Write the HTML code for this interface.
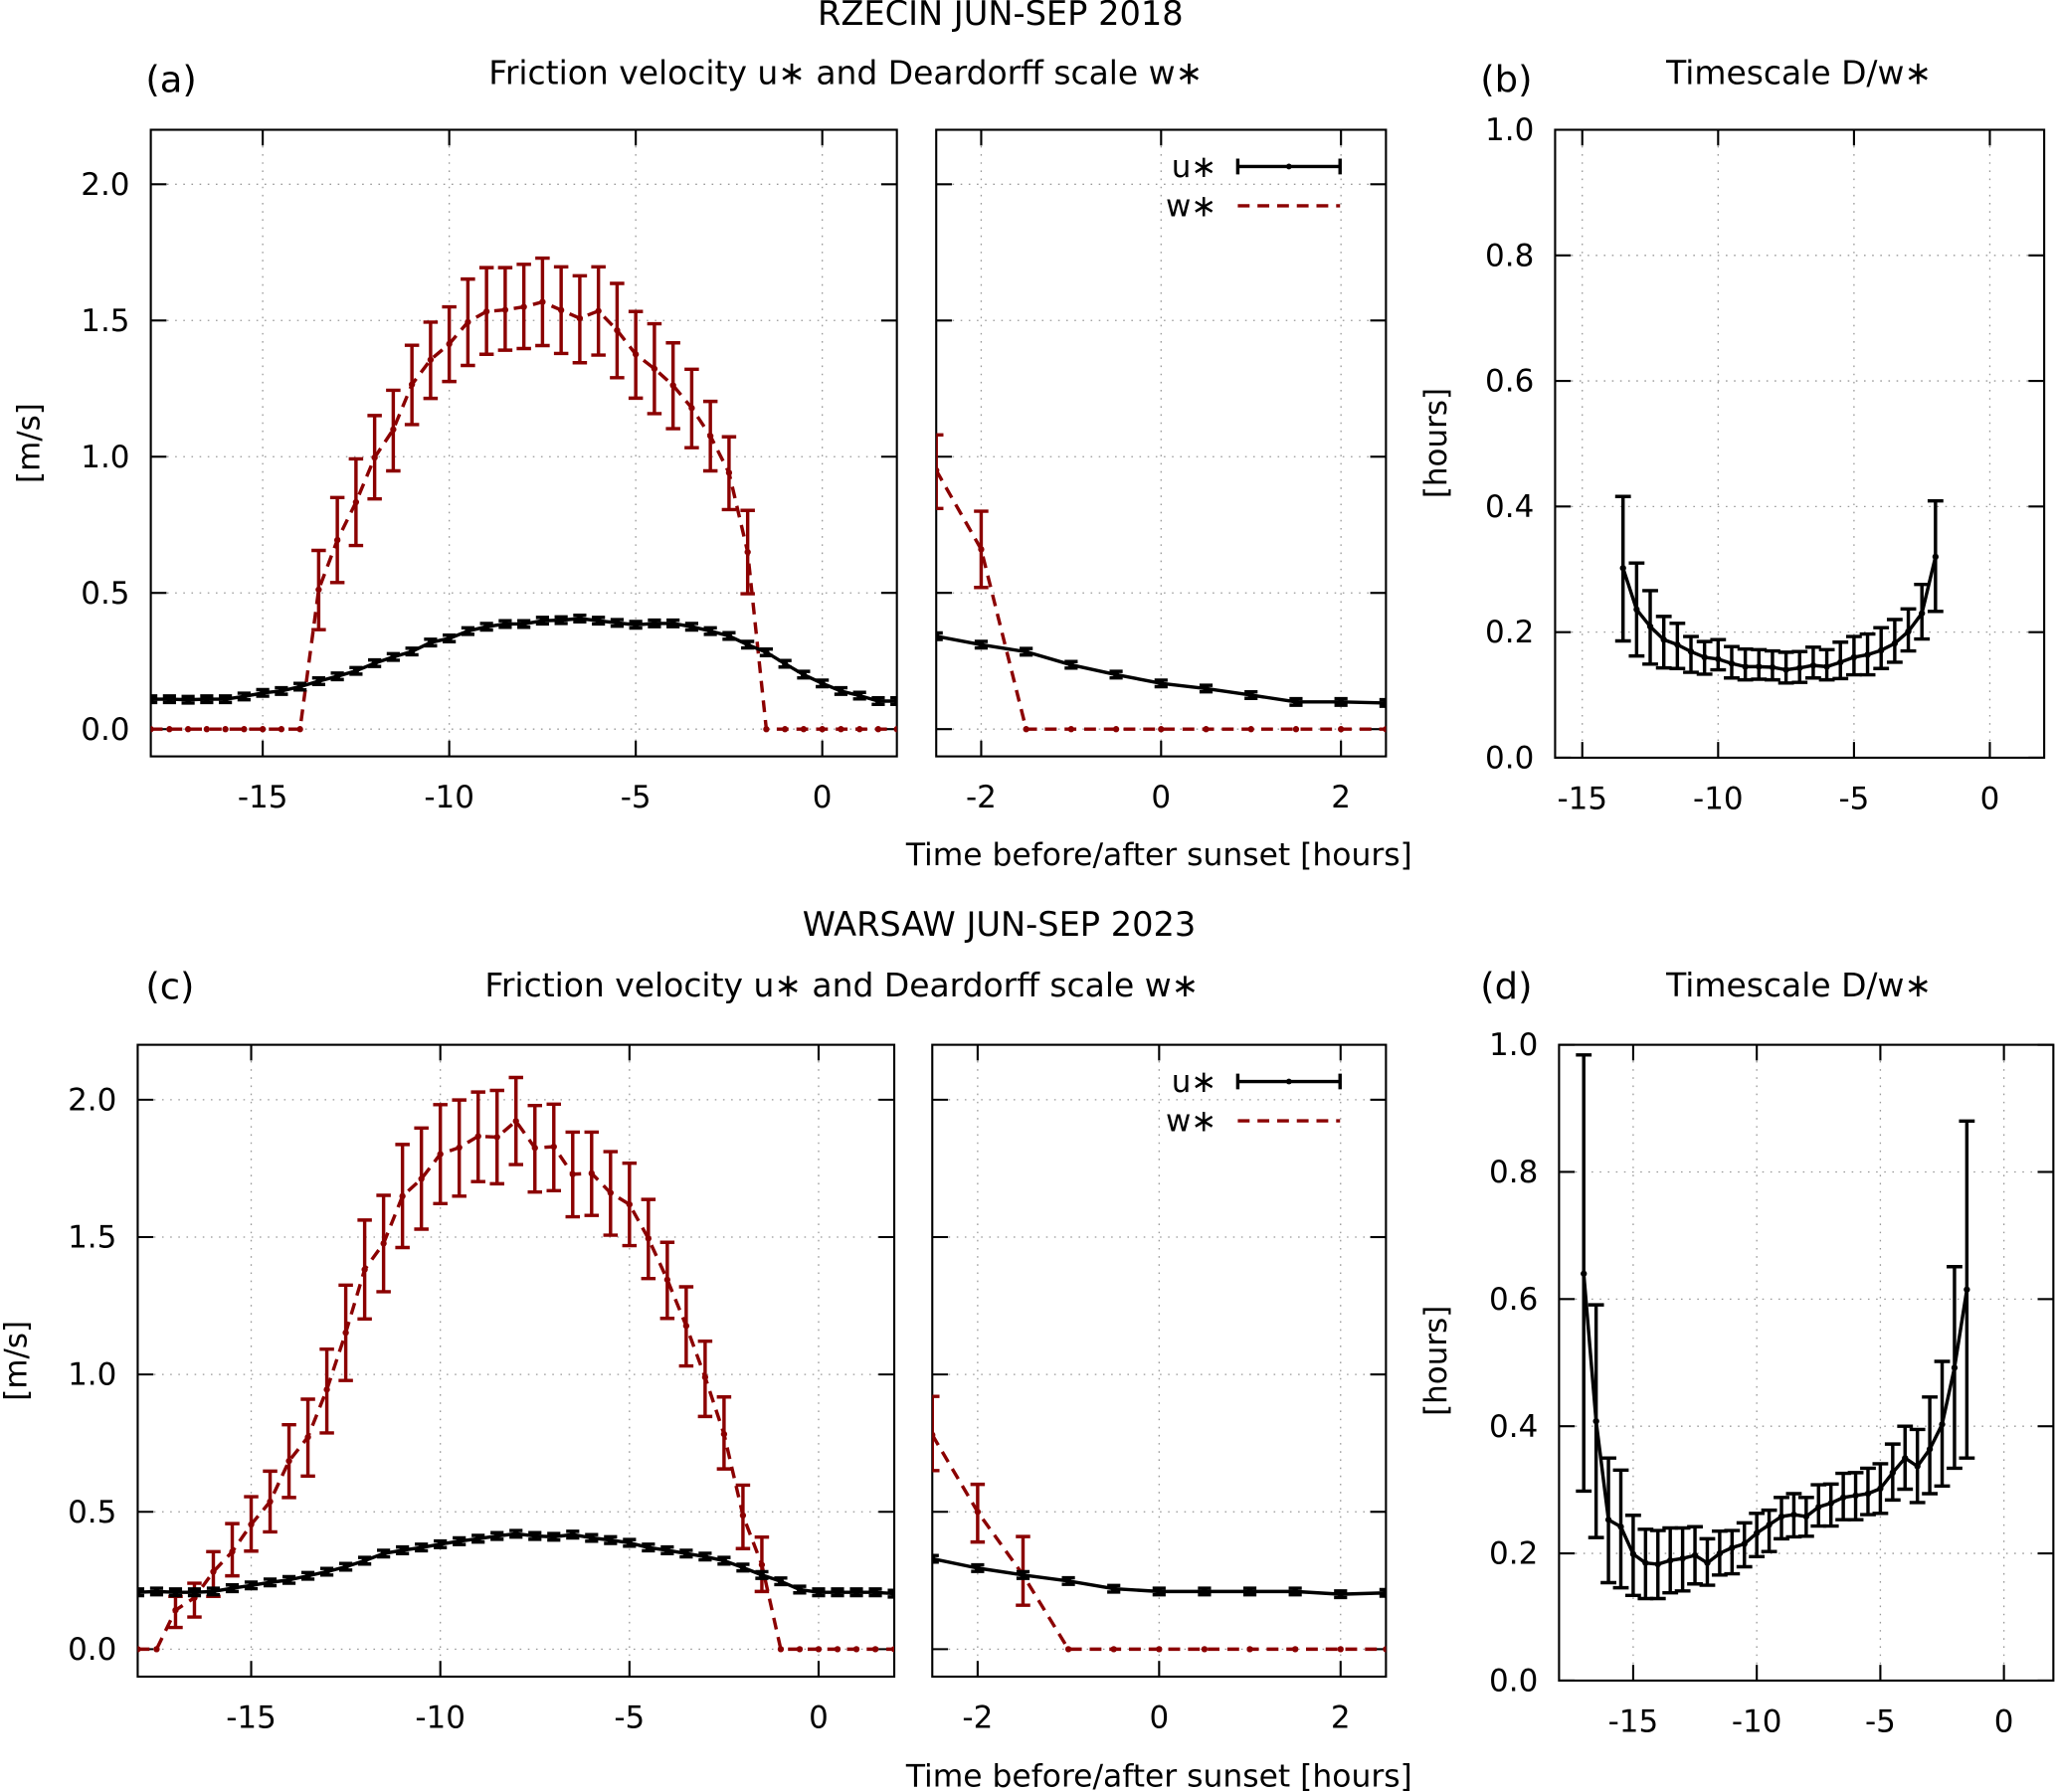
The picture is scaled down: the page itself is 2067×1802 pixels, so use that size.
<!DOCTYPE html>
<html><head><meta charset="utf-8">
<style>
html,body{margin:0;padding:0;background:#fff;}
svg{display:block;font-family:"DejaVu Sans","Liberation Sans",sans-serif;}
</style></head>
<body>
<svg id="fig" xmlns="http://www.w3.org/2000/svg" width="2067" height="1802" viewBox="0 0 1568 1367">
<rect x="0" y="0" width="1568" height="1367" fill="#fff"/>
<g fill="#000">
<text x="763" y="19" font-size="25.5" text-anchor="middle">RZECIN JUN-SEP 2018</text>
<text x="111" y="70" font-size="28">(a)</text>
<text x="645" y="64" font-size="25" text-anchor="middle">Friction velocity u∗ and Deardorff scale w∗</text>
<text x="1129" y="70" font-size="28">(b)</text>
<text x="1372" y="64" font-size="25" text-anchor="middle">Timescale D/w∗</text>
<text x="884" y="660" font-size="23.8" text-anchor="middle">Time before/after sunset [hours]</text>
<text x="762" y="714" font-size="25.5" text-anchor="middle">WARSAW JUN-SEP 2023</text>
<text x="111" y="762" font-size="28">(c)</text>
<text x="642" y="760" font-size="25" text-anchor="middle">Friction velocity u∗ and Deardorff scale w∗</text>
<text x="1129" y="762" font-size="28">(d)</text>
<text x="1372" y="760" font-size="25" text-anchor="middle">Timescale D/w∗</text>
<text x="884" y="1363" font-size="23.8" text-anchor="middle">Time before/after sunset [hours]</text>
<text transform="translate(30,338) rotate(-90)" font-size="23.5" text-anchor="middle">[m/s]</text>
<text transform="translate(1103,338) rotate(-90)" font-size="23.5" text-anchor="middle">[hours]</text>
<text transform="translate(20,1038) rotate(-90)" font-size="23.5" text-anchor="middle">[m/s]</text>
<text transform="translate(1103,1038) rotate(-90)" font-size="23.5" text-anchor="middle">[hours]</text>
</g>
<g id="plots"></g>
</svg>
<script>
// ---- data ----
const hoursMain = [-18,-17.5,-17,-16.5,-16,-15.5,-15,-14.5,-14,-13.5,-13,-12.5,-12,-11.5,-11,-10.5,-10,-9.5,-9,-8.5,-8,-7.5,-7,-6.5,-6,-5.5,-5,-4.5,-4,-3.5,-3,-2.5,-2,-1.5,-1,-0.5,0,0.5,1,1.5,2];
const hoursRight = [-2.5,-2,-1.5,-1,-0.5,0,0.5,1,1.5,2,2.5];
const hoursB = [-13.5,-13,-12.5,-12,-11.5,-11,-10.5,-10,-9.5,-9,-8.5,-8,-7.5,-7,-6.5,-6,-5.5,-5,-4.5,-4,-3.5,-3,-2.5,-2];
const hoursD = [-17,-16.5,-16,-15.5,-15,-14.5,-14,-13.5,-13,-12.5,-12,-11.5,-11,-10.5,-10,-9.5,-9,-8.5,-8,-7.5,-7,-6.5,-6,-5.5,-5,-4.5,-4,-3.5,-3,-2.5,-2,-1.5];

const uA = [0.11,0.11,0.108,0.11,0.11,0.12,0.133,0.14,0.156,0.176,0.194,0.214,0.242,0.265,0.285,0.318,0.333,0.36,0.376,0.386,0.386,0.398,0.40,0.406,0.398,0.39,0.383,0.388,0.388,0.376,0.36,0.342,0.31,0.282,0.24,0.2,0.168,0.14,0.123,0.103,0.103];
const uErr = [0.012];
const wA = [0,0,0,0,0,0,0,0,0,0.512,0.694,0.833,0.997,1.1,1.265,1.356,1.414,1.494,1.533,1.539,1.55,1.568,1.538,1.508,1.535,1.464,1.376,1.323,1.262,1.179,1.076,0.941,0.65,0,0,0,0,0,0,0,0];
const wAhi = [0,0,0,0,0,0,0,0,0,0.656,0.85,0.992,1.151,1.244,1.409,1.494,1.55,1.652,1.694,1.694,1.706,1.729,1.697,1.664,1.697,1.636,1.533,1.488,1.418,1.321,1.203,1.073,0.803,0,0,0,0,0,0,0,0];
const wAlo = [0,0,0,0,0,0,0,0,0,0.365,0.538,0.674,0.845,0.948,1.118,1.214,1.276,1.335,1.376,1.391,1.397,1.408,1.379,1.345,1.373,1.29,1.215,1.158,1.103,1.033,0.948,0.806,0.497,0,0,0,0,0,0,0,0];
const uAR = [0.341,0.31,0.284,0.236,0.2,0.168,0.149,0.125,0.1,0.1,0.096];
const wAR = [0.95,0.66,0,0,0,0,0,0,0,0,0];
const wARhi = [1.08,0.8,0,0,0,0,0,0,0,0,0];
const wARlo = [0.81,0.52,0,0,0,0,0,0,0,0,0];

const uC = [0.207,0.21,0.207,0.207,0.21,0.222,0.232,0.243,0.252,0.267,0.282,0.3,0.322,0.348,0.36,0.37,0.382,0.393,0.402,0.412,0.42,0.412,0.409,0.417,0.405,0.397,0.387,0.37,0.36,0.348,0.337,0.322,0.297,0.27,0.247,0.217,0.207,0.207,0.207,0.207,0.202];
const wC = [0,0,0.142,0.187,0.282,0.355,0.454,0.537,0.685,0.772,0.945,1.152,1.382,1.477,1.649,1.712,1.802,1.826,1.867,1.864,1.922,1.825,1.829,1.729,1.732,1.661,1.619,1.495,1.345,1.177,0.99,0.783,0.487,0.307,0,0,0,0,0,0,0];
const wChi = [0,0,0.192,0.24,0.355,0.457,0.555,0.648,0.817,0.91,1.092,1.325,1.562,1.652,1.837,1.897,1.982,1.999,2.028,2.034,2.081,1.979,1.984,1.882,1.882,1.811,1.769,1.637,1.481,1.319,1.121,0.918,0.597,0.408,0,0,0,0,0,0,0];
const wClo = [0,0,0.079,0.117,0.192,0.267,0.357,0.427,0.552,0.63,0.787,0.978,1.202,1.301,1.462,1.529,1.622,1.649,1.702,1.694,1.764,1.664,1.669,1.574,1.579,1.507,1.469,1.349,1.204,1.031,0.847,0.656,0.366,0.21,0,0,0,0,0,0,0];
const uCR = [0.329,0.295,0.27,0.248,0.22,0.21,0.21,0.21,0.21,0.2,0.205];
const wCR = [0.78,0.5,0.27,0,0,0,0,0,0,0,0];
const wCRhi = [0.92,0.6,0.41,0,0,0,0,0,0,0,0];
const wCRlo = [0.65,0.39,0.16,0,0,0,0,0,0,0,0];

const tB = [0.302,0.236,0.209,0.188,0.18,0.169,0.16,0.157,0.15,0.145,0.145,0.144,0.14,0.143,0.147,0.145,0.152,0.16,0.164,0.171,0.182,0.201,0.23,0.32];
const tBhi = [0.416,0.31,0.266,0.225,0.214,0.193,0.185,0.188,0.177,0.173,0.172,0.17,0.168,0.169,0.176,0.172,0.184,0.193,0.197,0.207,0.22,0.237,0.276,0.409];
const tBlo = [0.186,0.162,0.149,0.143,0.142,0.136,0.133,0.14,0.127,0.124,0.125,0.124,0.119,0.12,0.127,0.124,0.126,0.132,0.132,0.142,0.152,0.17,0.189,0.233];

const tD = [0.64,0.408,0.253,0.242,0.199,0.185,0.183,0.189,0.192,0.197,0.185,0.2,0.209,0.215,0.232,0.245,0.258,0.261,0.258,0.273,0.279,0.288,0.291,0.294,0.302,0.327,0.35,0.337,0.364,0.403,0.492,0.615];
const tDhi = [0.984,0.591,0.35,0.331,0.26,0.238,0.236,0.24,0.24,0.242,0.223,0.235,0.236,0.248,0.263,0.268,0.288,0.294,0.288,0.308,0.309,0.326,0.327,0.334,0.341,0.372,0.4,0.395,0.446,0.502,0.651,0.88];
const tDlo = [0.298,0.225,0.154,0.146,0.134,0.129,0.129,0.138,0.141,0.152,0.15,0.166,0.168,0.179,0.195,0.203,0.223,0.226,0.227,0.243,0.243,0.253,0.253,0.261,0.263,0.284,0.301,0.28,0.294,0.306,0.334,0.35];

const yTicksMS = [0,0.5,1.0,1.5,2.0];
const yTicksMSLabels = ["0.0","0.5","1.0","1.5","2.0"];
const yTicksH = [0,0.2,0.4,0.6,0.8,1.0];
const yTicksHLabels = ["0.0","0.2","0.4","0.6","0.8","1.0"];
const xTicksMain = [-15,-10,-5,0];
const xTicksRight = [-2,0,2];

// ---- drawing ----
const NS = "http://www.w3.org/2000/svg";
const root = document.getElementById('plots');
const RED = "#8b0000";
function mk(tag, attrs, parent){
  const e = document.createElementNS(NS, tag);
  for (const k in attrs) e.setAttribute(k, attrs[k]);
  (parent||root).appendChild(e);
  return e;
}
function panel(name, px0, px1, py0, py1, xd, yd, xt, yt, ytl, showYLabels){
  const g = mk('g', {});
  
  
  const sx = v => px0 + (v - xd[0]) / (xd[1] - xd[0]) * (px1 - px0);
  const sy = v => py1 - (v - yd[0]) / (yd[1] - yd[0]) * (py1 - py0);
  const grid = mk('g', {stroke:"#999", "stroke-width":1, "stroke-dasharray":"1.2 5"}, g);
  
  
  xt.forEach(t => mk('line', {x1:sx(t), x2:sx(t), y1:py0, y2:py1}, grid));
  yt.forEach(t => mk('line', {x1:px0, x2:px1, y1:sy(t), y2:sy(t)}, grid));
  const ax = mk('g', {stroke:"#000", "stroke-width":1.6}, g);
  
  
  xt.forEach(t => {
    mk('line', {x1:sx(t), x2:sx(t), y1:py1, y2:py1-12}, ax);
    mk('line', {x1:sx(t), x2:sx(t), y1:py0, y2:py0+12}, ax);
  });
  yt.forEach(t => {
    mk('line', {x1:px0, x2:px0+12, y1:sy(t), y2:sy(t)}, ax);
    mk('line', {x1:px1, x2:px1-12, y1:sy(t), y2:sy(t)}, ax);
  });
  mk('rect', {x:px0, y:py0, width:px1-px0, height:py1-py0, fill:"none"}, ax);
  const tl = mk('g', {"font-size":23.5, fill:"#000"}, g);
  
  
  xt.forEach(t => {
    const e = mk('text', {x:sx(t), y:py1+39, "text-anchor":"middle"}, tl);
    e.textContent = String(t);
  });
  if (showYLabels) yt.forEach((t,i) => {
    const e = mk('text', {x:px0-16, y:sy(t)+8, "text-anchor":"end"}, tl);
    e.textContent = ytl[i];
  });
  const clip = 'clip-' + name;
  const cp = mk('clipPath', {id:clip}, g);
  mk('rect', {x:px0, y:py0, width:px1-px0, height:py1-py0}, cp);
  const data = mk('g', {"clip-path":"url(#" + clip + ")"}, g);
  return {sx, sy, g: data};
}
function series(P, name, xs, ys, hi, lo, color, dashed, cap){
  const s = mk('g', {}, P.g);
  
  
  const pts = xs.map((x,i) => P.sx(x).toFixed(2) + ',' + P.sy(ys[i]).toFixed(2)).join(' ');
  const line = mk('polyline', {points:pts, fill:"none", stroke:color, "stroke-width":2.6, "stroke-linejoin":"round"}, s);
  if (dashed) line.setAttribute('stroke-dasharray', '9 6');
  
  
  xs.forEach((x,i) => {
    const h = hi ? hi[i] : ys[i] + uErr[0];
    const l = lo ? lo[i] : ys[i] - uErr[0];
    if (h !== l) {
      const X = P.sx(x), Y1 = P.sy(h), Y2 = P.sy(l);
      const eb = mk('path', {d:`M${X},${Y1}V${Y2}M${X-cap},${Y1}H${X+cap}M${X-cap},${Y2}H${X+cap}`, stroke:color, "stroke-width":2.6, fill:"none"}, s);
      
      
    }
    const pt = mk('circle', {cx:P.sx(x), cy:P.sy(ys[i]), r:2.4, fill:color}, s);
    
    
  });
}
function legend(name, x, y){
  const g = mk('g', {"font-size":23.5, fill:"#000"});
  
  
  const t1 = mk('text', {x:x, y:y+8, "text-anchor":"end"}, g); t1.textContent = "u∗";
  mk('path', {d:`M${x+16},${y}H${x+94}M${x+16},${y-6}V${y+6}M${x+94},${y-6}V${y+6}`, stroke:"#000", "stroke-width":2.6, fill:"none"}, g);
  mk('circle', {cx:x+55, cy:y, r:2.2, fill:"#000"}, g);
  const t2 = mk('text', {x:x, y:y+38, "text-anchor":"end"}, g); t2.textContent = "w∗";
  mk('line', {x1:x+16, x2:x+94, y1:y+30, y2:y+30, stroke:RED, "stroke-width":2.6, "stroke-dasharray":"9 6"}, g);
}

// Panel (a)
const Pa = panel('panel-a-left', 115, 684, 99, 577, [-18,2], [-0.1,2.2], xTicksMain, yTicksMS, yTicksMSLabels, true);
series(Pa, 'wstar-a', hoursMain, wA, wAhi, wAlo, RED, true, 5.5);
series(Pa, 'ustar-a', hoursMain, uA, null, null, "#000", false, 5);
const Par = panel('panel-a-right', 714, 1057, 99, 577, [-2.5,2.5], [-0.1,2.2], xTicksRight, yTicksMS, yTicksMSLabels, false);
series(Par, 'wstar-a-right', hoursRight, wAR, wARhi, wARlo, RED, true, 5.5);
series(Par, 'ustar-a-right', hoursRight, uAR, null, null, "#000", false, 5);
legend('legend-a', 928, 127);
// Panel (b)
const Pb = panel('panel-b', 1186, 1559, 99, 578, [-16,2], [0,1], xTicksMain, yTicksH, yTicksHLabels, true);
series(Pb, 'timescale-b', hoursB, tB, tBhi, tBlo, "#000", false, 6);
// Panel (c)
const Pc = panel('panel-c-left', 105, 682, 797, 1279, [-18,2], [-0.1,2.2], xTicksMain, yTicksMS, yTicksMSLabels, true);
series(Pc, 'wstar-c', hoursMain, wC, wChi, wClo, RED, true, 5.5);
series(Pc, 'ustar-c', hoursMain, uC, null, null, "#000", false, 5);
const Pcr = panel('panel-c-right', 711, 1057, 797, 1279, [-2.5,2.5], [-0.1,2.2], xTicksRight, yTicksMS, yTicksMSLabels, false);
series(Pcr, 'wstar-c-right', hoursRight, wCR, wCRhi, wCRlo, RED, true, 5.5);
series(Pcr, 'ustar-c-right', hoursRight, uCR, null, null, "#000", false, 5);
legend('legend-c', 928, 825);
// Panel (d)
const Pd = panel('panel-d', 1189, 1566, 797, 1282, [-18,2], [0,1], xTicksMain, yTicksH, yTicksHLabels, true);
series(Pd, 'timescale-d', hoursD, tD, tDhi, tDlo, "#000", false, 6);
</script>
</body></html>
